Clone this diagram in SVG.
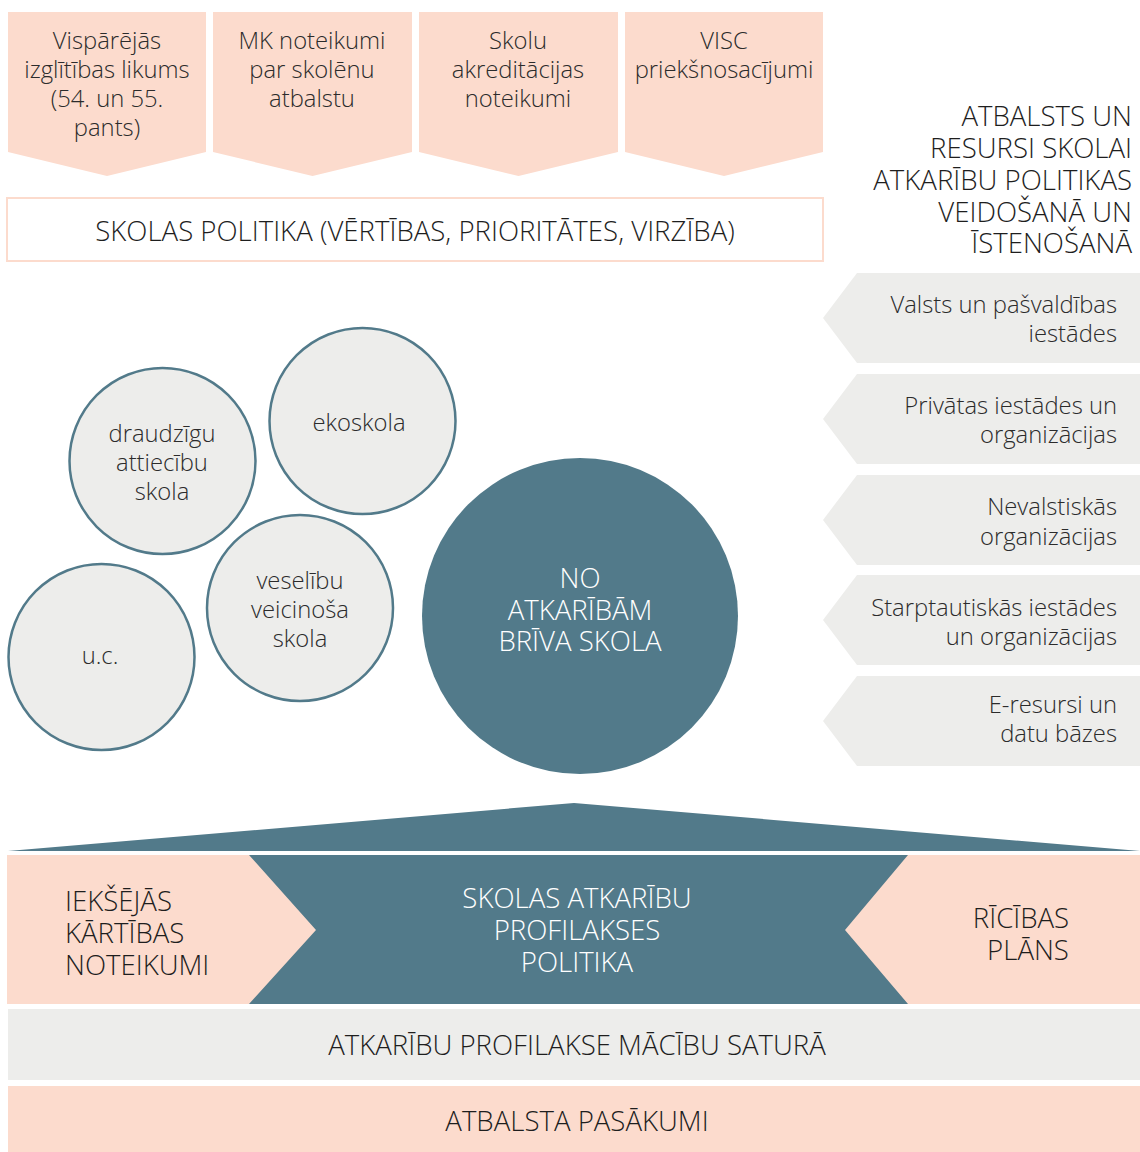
<svg xmlns="http://www.w3.org/2000/svg" width="1140" height="1152" viewBox="0 0 1140 1152">
<style>
text{font-family:"Open Sans","Noto Sans","Liberation Sans",sans-serif;font-weight:300;fill:#2b2b2b}
.s22{font-size:23.8px}
.s24{font-size:27.6px}
.c{text-anchor:middle}
.r{text-anchor:end}
.w{fill:#ffffff}
.d{fill:#1e1e1e}
.peach{fill:#fcdbcd}
.gray{fill:#ededeb}
.teal{fill:#527a8a}
.circ{fill:#ededeb;stroke:#527a8a;stroke-width:2.5}
</style>
<rect width="1140" height="1152" fill="#ffffff"/>
<g id="top-boxes">
<g id="box1"><path class="peach" d="M8 12H206V152L107 176L8 152Z"/>
<text class="s22 c" x="107" y="49">Vispārējās</text><text class="s22 c" x="107" y="78">izglītības likums</text><text class="s22 c" x="107" y="107">(54. un 55.</text><text class="s22 c" x="107" y="136">pants)</text></g>
<g id="box2"><path class="peach" d="M213 12H412V152L312.5 176L213 152Z"/>
<text class="s22 c" x="312" y="49">MK noteikumi</text><text class="s22 c" x="312" y="78">par skolēnu</text><text class="s22 c" x="312" y="107">atbalstu</text></g>
<g id="box3"><path class="peach" d="M419 12H618V152L518.5 176L419 152Z"/>
<text class="s22 c" x="518" y="49">Skolu</text><text class="s22 c" x="518" y="78">akreditācijas</text><text class="s22 c" x="518" y="107">noteikumi</text></g>
<g id="box4"><path class="peach" d="M625 12H823V152L724 176L625 152Z"/>
<text class="s22 c" x="724" y="49">VISC</text><text class="s22 c" x="724" y="78">priekšnosacījumi</text></g>
</g>
<g id="skolas-politika"><rect x="7" y="198" width="816" height="63" fill="#ffffff" stroke="#fcdbcd" stroke-width="2"/>
<text class="s24 c d" x="415" y="241">SKOLAS POLITIKA (VĒRTĪBAS, PRIORITĀTES, VIRZĪBA)</text></g>
<g id="right-title">
<text class="s24 r d" x="1132" y="126">ATBALSTS UN</text><text class="s24 r d" x="1132" y="158">RESURSI SKOLAI</text><text class="s24 r d" x="1132" y="190">ATKARĪBU POLITIKAS</text><text class="s24 r d" x="1132" y="222">VEIDOŠANĀ UN</text><text class="s24 r d" x="1132" y="253">ĪSTENOŠANĀ</text>
</g>
<g id="resources">
<g id="res1"><path class="gray" d="M857 273H1140V363H857L823 318Z"/><text class="s22 r" x="1117" y="313">Valsts un pašvaldības</text><text class="s22 r" x="1117" y="342">iestādes</text></g>
<g id="res2"><path class="gray" d="M857 374H1140V464H857L823 419Z"/><text class="s22 r" x="1117" y="414">Privātas iestādes un</text><text class="s22 r" x="1117" y="443">organizācijas</text></g>
<g id="res3"><path class="gray" d="M857 475H1140V565H857L823 520Z"/><text class="s22 r" x="1117" y="515">Nevalstiskās</text><text class="s22 r" x="1117" y="545">organizācijas</text></g>
<g id="res4"><path class="gray" d="M857 575H1140V665H857L823 620Z"/><text class="s22 r" x="1117" y="616">Starptautiskās iestādes</text><text class="s22 r" x="1117" y="645">un organizācijas</text></g>
<g id="res5"><path class="gray" d="M857 676H1140V766H857L823 721Z"/><text class="s22 r" x="1117" y="713">E-resursi un</text><text class="s22 r" x="1117" y="742">datu bāzes</text></g>
</g>
<g id="circles">
<g id="draudzigu"><circle class="circ" cx="162.5" cy="461" r="93"/><text class="s22 c" x="162" y="442">draudzīgu</text><text class="s22 c" x="162" y="471">attiecību</text><text class="s22 c" x="162" y="500">skola</text></g>
<g id="ekoskola"><circle class="circ" cx="362.5" cy="421" r="93"/><text class="s22 c" x="359" y="431">ekoskola</text></g>
<g id="veseliba"><circle class="circ" cx="300" cy="608" r="93"/><text class="s22 c" x="300" y="589">veselību</text><text class="s22 c" x="300" y="618">veicinoša</text><text class="s22 c" x="300" y="647">skola</text></g>
<g id="uc"><circle class="circ" cx="101.5" cy="657" r="93"/><text class="s22 c" x="100" y="664">u.c.</text></g>
<g id="no-atkaribam"><circle class="teal" cx="580" cy="616" r="158"/><text class="s24 c w" x="580" y="588">NO</text><text class="s24 c w" x="580" y="620">ATKARĪBĀM</text><text class="s24 c w" x="580" y="651">BRĪVA SKOLA</text></g>
</g>
<g id="connectors">
<path class="teal" d="M8 851L574 803L1140 851Z"/>
</g>
<g id="bottom">
<g id="policy-band">
<rect class="peach" x="7" y="855" width="1133" height="149"/>
<path class="teal" d="M249 855H908L845 930L908 1004H249L316 930Z"/>
<text class="s24 d" x="65" y="911">IEKŠĒJĀS</text><text class="s24 d" x="65" y="943">KĀRTĪBAS</text><text class="s24 d" x="65" y="975">NOTEIKUMI</text>
<text class="s24 c w" x="577" y="908">SKOLAS ATKARĪBU</text><text class="s24 c w" x="577" y="940">PROFILAKSES</text><text class="s24 c w" x="577" y="972">POLITIKA</text>
<text class="s24 c d" x="1021" y="928">RĪCĪBAS</text><text class="s24 c d" x="1028" y="960">PLĀNS</text>
</g>
<g id="macibu-saturs"><rect class="gray" x="8" y="1009" width="1132" height="71"/><text class="s24 c d" x="577" y="1055">ATKARĪBU PROFILAKSE MĀCĪBU SATURĀ</text></g>
<g id="atbalsta"><rect class="peach" x="8" y="1086" width="1132" height="66"/><text class="s24 c d" x="577" y="1131">ATBALSTA PASĀKUMI</text></g>
</g>
</svg>
